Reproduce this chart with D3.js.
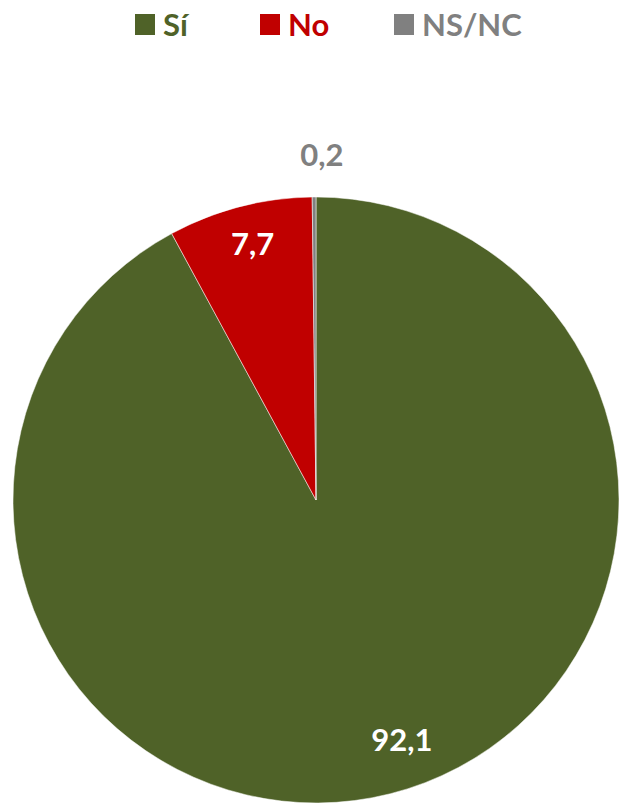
<!DOCTYPE html>
<html>
<head>
<meta charset="utf-8">
<script src="https://cdn.jsdelivr.net/npm/d3@7"></script>
<style>
  body { margin: 0; background: #fff; }
  svg { display: block; }
  text { font-family: Lato, "Open Sans", sans-serif; font-weight: 700; }
</style>
</head>
<body>
<svg id="chart" width="620" height="804"></svg>
<script>
// data
var categories = ["Sí", "No", "NS/NC"];
var values = [92.1, 7.7, 0.2];
var labels = ["92,1", "7,7", "0,2"];
var colors = ["#4F6228", "#C00000", "#808080"];

var svg = d3.select("svg#chart"),
  width = +svg.attr("width"),
  height = +svg.attr("height");

var cx = 316, cy = 500, radius = 303;

var color = d3.scaleOrdinal().domain(categories).range(colors);

var pie = d3.pie().sort(null).value(function(d) { return d.value; });
var data = categories.map(function(c, i) { return { name: c, value: values[i], label: labels[i] }; });
var arcs = pie(data);

var arc = d3.arc().innerRadius(0).outerRadius(radius);
var labelArc = d3.arc().innerRadius(252).outerRadius(252);
var outerArc = d3.arc().innerRadius(345).outerRadius(345);

var g = svg.append("g").attr("transform", "translate(" + cx + "," + cy + ")");

g.selectAll("path")
  .data(arcs)
  .enter().append("path")
  .attr("d", arc)
  .attr("fill", function(d) { return color(d.data.name); })
  .attr("stroke", "#fff")
  .attr("stroke-width", 0.5);

// labels: big slices inside in white, tiny one outside in its colour
g.selectAll("text.lbl")
  .data(arcs)
  .enter().append("text")
  .attr("class", "lbl")
  .attr("transform", function(d) {
    var small = d.data.value < 1;
    var p = small ? outerArc.centroid(d) : labelArc.centroid(d);
    if (small) p[0] += 8;
    else if (d.index == 0) { p[0] += 24; p[1] -= 4; }
    else p[1] -= 12;
    return "translate(" + p + ")";
  })
  .attr("text-anchor", "middle")
  .attr("dy", "0.35em")
  .attr("font-size", 31)
  .attr("fill", function(d) { return d.data.value < 1 ? color(d.data.name) : "#fff"; })
  .text(function(d) { return d.data.label; });

// legend
var legendX = [135, 260, 394];
var legend = svg.append("g").selectAll("g")
  .data(categories)
  .enter().append("g")
  .attr("transform", function(d, i) { return "translate(" + legendX[i] + ",14)"; });

legend.append("rect")
  .attr("width", 20).attr("height", 21)
  .attr("fill", function(d) { return color(d); });

legend.append("text")
  .attr("x", 28).attr("y", 22)
  .attr("font-size", 31)
  .attr("fill", function(d) { return color(d); })
  .text(function(d) { return d; });
</script>
</body>
</html>
